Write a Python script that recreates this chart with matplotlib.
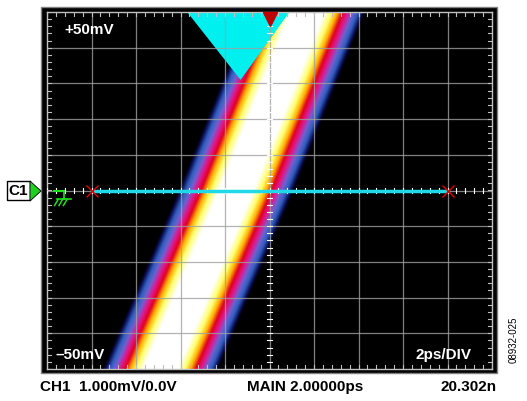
import numpy as np
import matplotlib
matplotlib.use("Agg")
import matplotlib.pyplot as plt
from matplotlib.colors import LinearSegmentedColormap
from matplotlib.patches import Rectangle, Polygon

# Band description (divisions): centre of trace at bottom (y=-5) and top (y=+5)
band_center_y = [-5.0, 0.0, 5.0]
band_center_x = [-2.45, -0.75, 0.85]
band_core_halfwidth = 0.38
band_edge_halfwidth = 1.30
cyan_region_x = [-1.85, 0.45, -0.65]
cyan_region_y = [5.0, 5.0, 3.1]
cursor_x = [-4.0, 4.0]
cursor_y = 0.0
labels_top = "+50mV"
labels_bot = "\u201350mV"
label_scale = "2ps/DIV"
footer = ["CH1  1.000mV/0.0V", "MAIN 2.00000ps", "20.302n"]

W, H = 527, 401
fig = plt.figure(figsize=(W/100, H/100), dpi=100)
fig.patch.set_facecolor("white")
fig.patches.append(Rectangle((41/W, 1-373/H), 456/W, 366/H, transform=fig.transFigure,
                             facecolor="black", edgecolor="#808080", lw=1, zorder=-5))
ax = fig.add_axes([47/W, 1-369/H, 445/W, 357/H])
ax.set_zorder(2)
ax.set_facecolor("black")
ax.set_xlim(-5, 5); ax.set_ylim(-5, 5)
ax.set_xticks([]); ax.set_yticks([])
for s in ax.spines.values():
    s.set_color("#c0c0c0"); s.set_linewidth(1)

cmap = LinearSegmentedColormap.from_list("persist", [
    (0.0, "black"), (0.06, "#0a0a50"), (0.18, "#3060c0"), (0.3, "#7060d0"),
    (0.42, "#e01890"), (0.55, "#e00020"), (0.68, "#ffb000"), (0.82, "#ffff70"), (1.0, "white")])
xs = np.linspace(-5, 5, 600); ys = np.linspace(-5, 5, 500)
X, Y = np.meshgrid(xs, ys)
C = np.interp(Y, band_center_y, band_center_x)
D = np.abs(X - C)
I = np.clip((band_edge_halfwidth - D) / (band_edge_halfwidth - band_core_halfwidth), 0, 1)
ax.imshow(I, extent=(-5, 5, -5, 5), origin="lower", cmap=cmap, vmin=0, vmax=1,
          aspect="auto", interpolation="bilinear", zorder=1)

ax.add_patch(Polygon(list(zip(cyan_region_x, cyan_region_y)), closed=True,
                     facecolor="#00f0f0", edgecolor="none", zorder=2))

for v in range(-4, 5):
    ax.axvline(v, color="#a0a0a0", lw=0.9, alpha=0.8, zorder=3)
    ax.axhline(v, color="#a0a0a0", lw=0.9, alpha=0.8, zorder=3)
for t in np.arange(-5, 5.01, 0.2):
    ax.plot([t, t], [-0.07, 0.07], color="white", lw=0.8, zorder=4)
    ax.plot([-0.06, 0.06], [t, t], color="white", lw=0.8, zorder=4)
    ax.plot([t, t], [4.88, 5], color="#c0c0c0", lw=0.8, zorder=4)
    ax.plot([t, t], [-5, -4.88], color="#c0c0c0", lw=0.8, zorder=4)
    ax.plot([-5, -4.9], [t, t], color="#c0c0c0", lw=0.8, zorder=4)
    ax.plot([4.9, 5], [t, t], color="#c0c0c0", lw=0.8, zorder=4)

ax.plot(cursor_x, [cursor_y, cursor_y], color="#20d8e8", lw=2.5, zorder=5)
ax.plot(cursor_x, [cursor_y, cursor_y], "x", color="#e00000", ms=9, mew=1, zorder=6)
ax.plot([0], [4.8], marker="v", color="#c00000", ms=10, zorder=6, clip_on=False)
ax.plot([-4.85, -4.62], [0, 0], color="#20e020", lw=1.5, zorder=6)
ax.plot([-4.62, -4.62], [0, -0.25], color="#20e020", lw=1.2, zorder=6)
ax.plot([-4.78, -4.45], [-0.25, -0.25], color="#20e020", lw=1.2, zorder=6)
for xx in [-4.75, -4.65, -4.55]:
    ax.plot([xx, xx - 0.08], [-0.25, -0.42], color="#20e020", lw=1.1, zorder=6)

tk = dict(color="white", fontsize=11, fontweight="bold", family="Liberation Sans", zorder=7)
ax.text(-4.6, 4.5, labels_top, ha="left", va="center", **tk)
ax.text(-4.8, -4.6, labels_bot, ha="left", va="center", **tk)
ax.text(4.55, -4.6, label_scale, ha="right", va="center", **tk)

fk = dict(fontsize=11, fontweight="bold", family="Liberation Sans", color="black")
fig.text(40/W, 1-387/H, footer[0], ha="left", va="center", **fk)
fig.text(305/W, 1-387/H, footer[1], ha="center", va="center", **fk)
fig.text(497/W, 1-387/H, footer[2], ha="right", va="center", **fk)
fig.text(514/W, 1-340/H, "08932-025", rotation=90, ha="center", va="center",
         fontsize=7, family="Liberation Sans", color="black")

fig.patches.append(Rectangle((7/W, 1-200/H), 23/W, 19/H, transform=fig.transFigure,
                             facecolor="white", edgecolor="black", lw=1, zorder=5))
fig.text(18.5/W, 1-191/H, "C1", ha="center", va="center", fontsize=11,
         fontweight="bold", family="Liberation Sans", zorder=10)
fig.patches.append(Polygon([(30/W, 1-181/H), (30/W, 1-201/H), (41/W, 1-191/H)],
                           closed=True, transform=fig.transFigure,
                           facecolor="#20d020", edgecolor="black", lw=0.6, zorder=5))

fig.savefig("out.png", dpi=100)
